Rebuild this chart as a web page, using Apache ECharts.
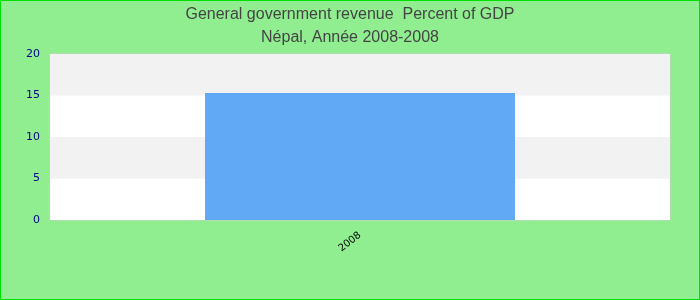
<!DOCTYPE html>
<html><head><meta charset="utf-8">
<script src="https://cdn.jsdelivr.net/npm/echarts@6/dist/echarts.min.js"></script>
<style>html,body{margin:0;padding:0;background:#90ee90;}#c{width:698px;height:298px;border:1px solid #00e000;}</style>
</head><body><div id="c"></div>
<script>
const categories = ['2008'];
const values = [15.3];
const yTicks = [0, 5, 10, 15, 20];
const titleLines = ['General government revenue  Percent of GDP', 'Népal, Année 2008-2008'];

const chart = echarts.init(document.getElementById('c'));
chart.setOption({
  backgroundColor: '#90ee90',
  animation: false,
  title: {
    text: titleLines.join('\n'),
    left: 'center', top: -3,
    textStyle: {fontFamily: 'Liberation Sans, Arial', fontSize: 16, fontWeight: 'normal', color: '#444', lineHeight: 23}
  },
  grid: {left: 49, right: 29, top: 53, bottom: 79, show: true, backgroundColor: '#fff', borderColor: '#cccccc', borderWidth: 1},
  xAxis: {
    type: 'category', data: categories,
    axisLine: {show: false}, axisTick: {show: false},
    axisLabel: {rotate: 38, color: '#000', fontSize: 10, fontFamily: 'DejaVu Sans', margin: 14}
  },
  yAxis: {
    type: 'value', min: yTicks[0], max: yTicks[yTicks.length-1], interval: 5,
    axisLine: {show: false}, axisTick: {show: false}, splitLine: {show: false},
    splitArea: {show: true, areaStyle: {color: ['#ffffff', '#f2f2f2']}},
    axisLabel: {color: '#00008b', fontSize: 11, fontFamily: 'DejaVu Sans', margin: 10}
  },
  series: [{type: 'bar', data: values, barWidth: '50%', itemStyle: {color: '#61a9f5'}}]
});
</script></body></html>
